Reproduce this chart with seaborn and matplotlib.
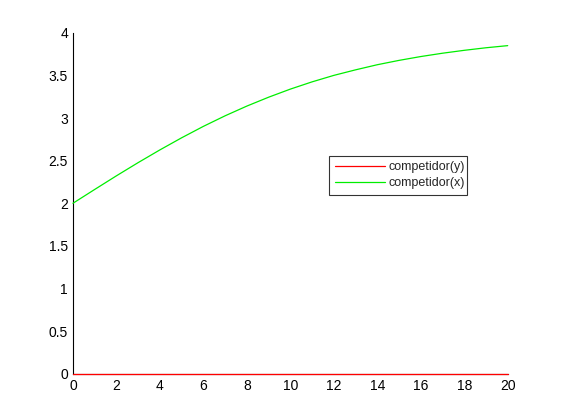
import numpy as np
import pandas as pd
import matplotlib
matplotlib.use("Agg")
import matplotlib.pyplot as plt
import seaborn as sns

# values
t = list(range(0, 21))
comp_x = [2.000, 2.162, 2.322, 2.477, 2.626, 2.768, 2.902, 3.026, 3.140, 3.244, 3.339,
          3.424, 3.500, 3.565, 3.625, 3.676, 3.721, 3.760, 3.794, 3.824, 3.849]
comp_y = [0.0] * 21
x_ticks = list(range(0, 21, 2))
y_ticks = [0, 0.5, 1, 1.5, 2, 2.5, 3, 3.5, 4]

df = pd.DataFrame({
    "t": t * 2,
    "value": comp_y + comp_x,
    "serie": ["competidor(y)"] * 21 + ["competidor(x)"] * 21,
})

sns.set_style("white")
plt.rcParams["font.family"] = ["Liberation Sans", "DejaVu Sans"]

fig = plt.figure(figsize=(5.61, 4.2), dpi=100)
ax = fig.add_axes([0.13, 0.11, 0.775, 0.812])

sns.lineplot(data=df, x="t", y="value", hue="serie",
             palette={"competidor(y)": "#ff0000", "competidor(x)": "#00ee00"},
             linewidth=0.9, ax=ax)
for ln in ax.lines:
    ln.set_clip_on(False)
    ln.set_zorder(5)

ax.set_xlim(0, 20)
ax.set_ylim(0, 4)
ax.set_xticks(x_ticks)
ax.set_yticks(y_ticks)
ax.set_yticklabels([f"{v:g}" for v in y_ticks])
ax.set_xlabel("")
ax.set_ylabel("")
for s in ["top", "right"]:
    ax.spines[s].set_visible(False)
for s in ["left", "bottom"]:
    ax.spines[s].set_color("black")
    ax.spines[s].set_linewidth(0.8)
ax.tick_params(direction="in", length=4, width=0.8, labelsize=10, colors="black")

leg = ax.legend(loc="lower left", bbox_to_anchor=(0.589, 0.525, 0.317, 0.117),
                mode="expand", fontsize=9, frameon=True, fancybox=False,
                borderpad=0.45, labelspacing=0.3, handlelength=4.0, handletextpad=0.3,
                borderaxespad=0)
leg.get_frame().set_edgecolor("black")
leg.get_frame().set_linewidth(0.8)

fig.savefig("out.png", dpi=100)
